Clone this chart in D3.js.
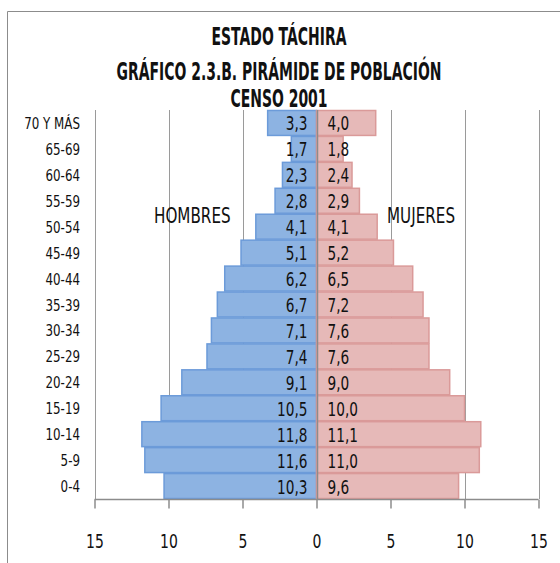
<!DOCTYPE html>
<html><head><meta charset="utf-8">
<script src="https://cdn.jsdelivr.net/npm/d3@7"></script>
<style>
html,body{margin:0;padding:0;background:#fff;overflow:hidden;}
svg{display:block;}
text{font-family:"DejaVu Sans","Liberation Sans",sans-serif;fill:#111;}
</style></head>
<body>
<svg id="chart" width="560" height="563"></svg>
<script>
const categories = ["0-4","5-9","10-14","15-19","20-24","25-29","30-34","35-39","40-44","45-49","50-54","55-59","60-64","65-69","70 Y MÁS"];
const hombres = [10.3,11.6,11.8,10.5,9.1,7.4,7.1,6.7,6.2,5.1,4.1,2.8,2.3,1.7,3.3];
const mujeres = [9.6,11.0,11.1,10.0,9.0,7.6,7.6,7.2,6.5,5.2,4.1,2.9,2.4,1.8,4.0];
const tickValues = [-15,-10,-5,0,5,10,15];
const titleLines = ["ESTADO TÁCHIRA","GRÁFICO 2.3.B. PIRÁMIDE DE POBLACIÓN","CENSO 2001"];

(function(){
const svg = d3.select("#chart");
const pL = 94.5, pR = 538.5, pT = 110, pB = 499;
const SX = 0.72; // horizontal condensing of body text

// outer frame: left and top edges only
svg.append("line").attr("x1",7.5).attr("x2",7.5).attr("y1",11.5).attr("y2",563)
  .attr("stroke","#8c8c8c").attr("stroke-width",1);
svg.append("line").attr("x1",7.5).attr("x2",560).attr("y1",11.5).attr("y2",11.5)
  .attr("stroke","#8c8c8c").attr("stroke-width",1);

const x = d3.scaleLinear().domain([-15,15]).range([pL,pR]);
const y = d3.scaleBand().domain(categories.slice().reverse()).range([pT,pB]).padding(0);

// gridlines
svg.append("g").selectAll("line").data(tickValues.filter(v=>v!==0)).join("line")
  .attr("x1",d=>Math.round(x(d))+0.5).attr("x2",d=>Math.round(x(d))+0.5)
  .attr("y1",pT).attr("y2",pB)
  .attr("stroke","#9a9a9a").attr("stroke-width",1);

const fmt = v => d3.format(".1f")(v).replace(".",",");
const rows = categories.map((c,i)=>({c, h:hombres[i], m:mujeres[i]}));

// bars
svg.append("g").selectAll("rect").data(rows).join("rect")
  .attr("x",d=>x(-d.h)).attr("width",d=>x(0)-x(-d.h))
  .attr("y",d=>y(d.c)+0.5).attr("height",y.bandwidth()-1)
  .attr("fill","#8DB3E2").attr("stroke","#6C9BD9").attr("stroke-width",1.5);
svg.append("g").selectAll("rect").data(rows).join("rect")
  .attr("x",x(0)).attr("width",d=>x(d.m)-x(0))
  .attr("y",d=>y(d.c)+0.5).attr("height",y.bandwidth()-1)
  .attr("fill","#E6B9B8").attr("stroke","#DA9A99").attr("stroke-width",1.5);

// zero line
svg.append("line").attr("x1",Math.round(x(0))+0.5).attr("x2",Math.round(x(0))+0.5)
  .attr("y1",pT).attr("y2",pB).attr("stroke","#8c8c8c").attr("stroke-width",1.5);

// value labels
svg.append("g").selectAll("text").data(rows).join("text")
  .attr("transform",d=>`translate(${x(0)-9},${y(d.c)+y.bandwidth()/2+7.5}) scale(${SX},1)`)
  .attr("text-anchor","end").attr("font-size",19).text(d=>fmt(d.h));
svg.append("g").selectAll("text").data(rows).join("text")
  .attr("transform",d=>`translate(${x(0)+11},${y(d.c)+y.bandwidth()/2+7.5}) scale(${SX},1)`)
  .attr("text-anchor","start").attr("font-size",19).text(d=>fmt(d.m));

// category labels
svg.append("g").selectAll("text").data(categories).join("text")
  .attr("transform",d=>`translate(80,${y(d)+y.bandwidth()/2+6}) scale(${SX},1)`)
  .attr("text-anchor","end").attr("font-size",16.5).text(d=>d);

// x axis
const xAxis = d3.axisBottom(x).tickValues(tickValues).tickSize(9).tickPadding(14)
  .tickFormat(d=>Math.abs(d));
const ax = svg.append("g").attr("transform",`translate(0,${pB+0.5})`).call(xAxis);
ax.select(".domain").attr("stroke","#8c8c8c").attr("stroke-width",1.5).attr("d",`M${pL},0H${pR}`);
ax.selectAll(".tick line").attr("stroke","#8c8c8c").attr("stroke-width",1.5);
ax.selectAll(".tick text").attr("font-size",20).attr("fill","#111")
  .attr("font-family",'"DejaVu Sans",sans-serif')
  .attr("y",null).attr("dy",null)
  .attr("transform",`translate(0,48) scale(0.7,1)`);

// series labels
svg.append("text").attr("transform",`translate(154,223) scale(0.69,1)`).attr("font-size",22).text("HOMBRES");
svg.append("text").attr("transform",`translate(387,223) scale(0.69,1)`).attr("font-size",22).text("MUJERES");

// title
const tY = [45,80,106.5];
svg.append("g").selectAll("text").data(titleLines).join("text")
  .attr("transform",(d,i)=>`translate(279,${tY[i]}) scale(0.57,1)`)
  .attr("text-anchor","middle")
  .attr("font-size",24.5).attr("font-weight","bold").text(d=>d);
})();
</script>
</body></html>
